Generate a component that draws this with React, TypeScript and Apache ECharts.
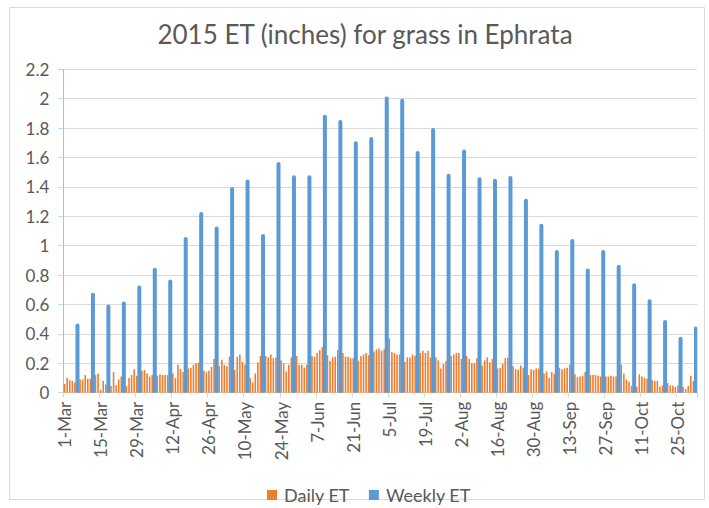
import React, { useEffect, useRef } from "react";
import * as echarts from "echarts";

const chartTitle = "2015 ET (inches) for grass in Ephrata";
const seriesNames = ["Daily ET", "Weekly ET"];
const monthNames = ["Jan", "Feb", "Mar", "Apr", "May", "Jun", "Jul", "Aug", "Sep", "Oct", "Nov", "Dec"];
// daily categories: 1-Mar-2015 .. 1-Nov-2015
const firstDay = { year: 2015, month: 2, day: 1 };
const dayCount = 246;

// Daily ET (inches), one row per 6 days
const dailyET = [
  0.06, 0.10, 0.085, 0.08, 0.07, 0.08,
  0.09, 0.09, 0.12, 0.095, 0.095, 0.10,
  0.12, 0.13, 0.02, 0.08, 0.055, 0.06,
  0.045, 0.14, 0.05, 0.09, 0.11, 0.10,
  0.045, 0.10, 0.12, 0.16, 0.115, 0.12,
  0.15, 0.155, 0.13, 0.11, 0.12, 0.12,
  0.115, 0.125, 0.12, 0.12, 0.12, 0.12,
  0.13, 0.10, 0.19, 0.16, 0.14, 0.15,
  0.165, 0.17, 0.19, 0.20, 0.205, 0.20,
  0.15, 0.14, 0.15, 0.175, 0.23, 0.20,
  0.18, 0.225, 0.19, 0.18, 0.245, 0.20,
  0.155, 0.245, 0.26, 0.21, 0.19, 0.15,
  0.10, 0.07, 0.13, 0.205, 0.25, 0.23,
  0.25, 0.24, 0.26, 0.235, 0.24, 0.22,
  0.22, 0.20, 0.145, 0.19, 0.24, 0.22,
  0.25, 0.19, 0.19, 0.17, 0.19, 0.22,
  0.25, 0.245, 0.27, 0.29, 0.31, 0.28,
  0.255, 0.215, 0.24, 0.245, 0.29, 0.26,
  0.27, 0.245, 0.245, 0.235, 0.235, 0.22,
  0.215, 0.25, 0.26, 0.27, 0.255, 0.27,
  0.28, 0.295, 0.30, 0.285, 0.295, 0.30,
  0.37, 0.275, 0.27, 0.26, 0.26, 0.22,
  0.21, 0.24, 0.24, 0.26, 0.25, 0.26,
  0.27, 0.285, 0.27, 0.285, 0.24, 0.24,
  0.24, 0.22, 0.165, 0.195, 0.215, 0.23,
  0.25, 0.26, 0.27, 0.27, 0.23, 0.22,
  0.25, 0.23, 0.20, 0.20, 0.235, 0.21,
  0.185, 0.22, 0.24, 0.205, 0.23, 0.20,
  0.165, 0.17, 0.195, 0.235, 0.24, 0.20,
  0.18, 0.16, 0.155, 0.185, 0.17, 0.15,
  0.12, 0.16, 0.155, 0.165, 0.165, 0.15,
  0.13, 0.145, 0.10, 0.14, 0.13, 0.15,
  0.17, 0.16, 0.165, 0.17, 0.19, 0.15,
  0.125, 0.105, 0.11, 0.115, 0.14, 0.12,
  0.12, 0.12, 0.12, 0.115, 0.11, 0.11,
  0.11, 0.11, 0.115, 0.11, 0.11, 0.12,
  0.19, 0.13, 0.09, 0.075, 0.048, 0.05,
  0.04, 0.125, 0.11, 0.10, 0.095, 0.09,
  0.085, 0.08, 0.08, 0.04, 0.05, 0.06,
  0.065, 0.05, 0.048, 0.04, 0.05, 0.04,
  0.04, 0.025, 0.045, 0.115, 0.08, 0.08,
];

// Weekly ET (inches), recorded on day 6, 12, 18, ... of the season
const weeklyET = [
  0.47, 0.68, 0.60, 0.62, 0.73, 0.85, 0.77, 1.06, 1.23, 1.13,
  1.40, 1.45, 1.08, 1.57, 1.48, 1.48, 1.89, 1.855, 1.71, 1.74,
  2.015, 2.0, 1.645, 1.80, 1.49, 1.655, 1.465, 1.455, 1.475, 1.32,
  1.15, 0.97, 1.045, 0.845, 0.97, 0.87, 0.745, 0.635, 0.495, 0.38,
  0.45,
];
const weeklyFirstIndex = 5;
const weeklyStep = 6;

const yMin = 0;
const yMax = 2.2;
const yInterval = 0.2;

function buildCategories(): string[] {
  const out: string[] = [];
  for (let i = 0; i < dayCount; i++) {
    const d = new Date(firstDay.year, firstDay.month, firstDay.day + i);
    out.push(`${d.getDate()}-${monthNames[d.getMonth()]}`);
  }
  return out;
}

export default function App() {
  const ref = useRef<HTMLDivElement>(null);
  useEffect(() => {
    if (!ref.current) return;
    const chart = echarts.init(ref.current, undefined, { renderer: "svg" });
    const categories = buildCategories();
    const weeklySeries: (number | null)[] = categories.map(() => null);
    weeklyET.forEach((v, k) => {
      weeklySeries[weeklyFirstIndex + k * weeklyStep] = v;
    });
    const font = "Lato";
    const textColor = "#595959";
    chart.setOption({
      animation: false,
      backgroundColor: "#ffffff",
      title: {
        text: chartTitle,
        left: 360,
        textAlign: "center",
        top: 16,
        textStyle: { fontFamily: font, fontSize: 26, fontWeight: "normal", color: textColor },
      },
      legend: {
        data: seriesNames,
        left: 262,
        top: 481,
        icon: "rect",
        itemWidth: 10,
        itemHeight: 10,
        itemGap: 19,
        textStyle: { fontFamily: font, fontSize: 18, color: textColor, padding: [0, 0, 0, 2] },
      },
      graphic: [
        {
          type: "rect",
          shape: { x: 9.5, y: 7.5, width: 695, height: 492 },
          style: { fill: "none", stroke: "#d9d9d9", lineWidth: 1 },
          silent: true,
        },
      ],
      grid: { left: 63.3, right: 11.7, top: 69.3, bottom: 115.3, containLabel: false },
      xAxis: [
        {
          type: "category",
          data: categories,
          boundaryGap: true,
          axisLine: { lineStyle: { color: "#d9d9d9", width: 1 } },
          axisTick: { show: true, interval: 13, length: 5, lineStyle: { color: "#d9d9d9" } },
          axisLabel: {
            interval: 13,
            rotate: 90,
            margin: 9,
            fontFamily: font,
            fontSize: 17,
            color: textColor,
          },
        },
        {
          type: "category",
          data: categories,
          boundaryGap: true,
          show: false,
          position: "bottom",
        },
      ],
      yAxis: {
        type: "value",
        min: yMin,
        max: yMax,
        interval: yInterval,
        axisLine: { show: true, lineStyle: { color: "#9dc3e6", width: 1 } },
        axisTick: { show: true, length: 5, lineStyle: { color: "#bdd7ee" } },
        splitLine: { lineStyle: { color: "#d9d9d9", width: 1 } },
        axisLabel: { fontFamily: font, fontSize: 17, color: textColor, margin: 14 },
      },
      series: [
        {
          name: seriesNames[0],
          type: "bar",
          xAxisIndex: 0,
          data: dailyET,
          barWidth: 1.6,
          itemStyle: { color: "#ED7D31" },
        },
        {
          name: seriesNames[1],
          type: "bar",
          xAxisIndex: 1,
          data: weeklySeries,
          barWidth: 4,
          itemStyle: { color: "#5B9BD5", borderRadius: [2, 2, 0, 0] },
        },
      ],
    });
    return () => chart.dispose();
  }, []);
  return (
    <div
      ref={ref}
      style={{ position: "absolute", left: 0, top: 0, width: 709, height: 508, background: "#fff" }}
    />
  );
}
